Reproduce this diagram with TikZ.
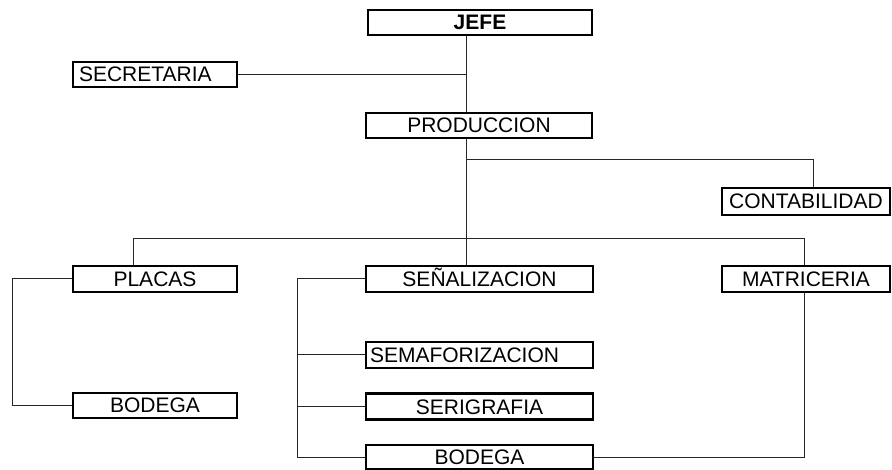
\documentclass[tikz,border=0pt]{standalone}
\usepackage{fontspec}
\setmainfont{Liberation Sans}
\usetikzlibrary{calc}
\begin{document}
\begin{tikzpicture}[x=1pt,y=-1pt,
  box/.style={draw=black,line width=2.8pt,fill=white,inner xsep=0pt,inner ysep=0pt,
    text height=15pt,text depth=0pt,
    minimum height=25pt,align=center,font=\fontsize{21}{23}\selectfont},
  leftbox/.style={box,align=left,inner xsep=6pt},
  link/.style={draw=black!85,line width=1pt}]
\useasboundingbox (0,0) rectangle (892,470);

% boxes of the chart
\node[box,text width=224pt,font=\fontsize{21}{23}\selectfont\bfseries] (jefe) at (480,22.5) {JEFE};
\node[leftbox,text width=152pt] (secretaria) at (155,74.5) {SECRETARIA};
\node[box,text width=226pt] (produccion) at (479,125.5) {PRODUCCION};
\node[box,text width=168pt,minimum height=27pt] (contabilidad) at (806,201.5) {CONTABILIDAD};
\node[box,text width=164pt,minimum height=26pt] (placas) at (155,279) {PLACAS};
\node[box,text width=227pt,minimum height=26pt] (senalizacion) at (479.5,279) {SEÑALIZACION};
\node[box,text width=168pt,minimum height=26pt] (matriceria) at (806,279) {MATRICERIA};
\node[leftbox,text width=215pt,minimum height=26pt,inner xsep=4pt,text width=219pt] (semaforizacion) at (479.5,355) {SEMAFORIZACION};
\node[box,text width=164pt] (bodegaA) at (155,405.5) {BODEGA};
\node[box,text width=227pt,minimum height=26pt] (serigrafia) at (479.5,406.5) {SERIGRAFIA};
\node[box,text width=227pt,minimum height=24pt] (bodegaB) at (479.5,457) {BODEGA};

% routing points
\coordinate (trunk) at (466,0);
\coordinate (busA) at (0,160);
\coordinate (busB) at (0,239);
\coordinate (contX) at (813,0);
\coordinate (placX) at (133,0);
\coordinate (matrX) at (804,0);
\coordinate (leftX) at (12,0);
\coordinate (midX) at (297,0);

% connectors
\draw[link] (jefe.south -| trunk) -- (produccion.north -| trunk);
\draw[link] (secretaria.east) -- (secretaria.east -| trunk);
\draw[link] (produccion.south -| trunk) -- (senalizacion.north -| trunk);
\draw[link] (busA -| trunk) -- (busA -| contX) -- (contabilidad.north -| contX);
\draw[link] (placas.north -| placX) -- (busB -| placX) -- (busB -| matrX) -- (matriceria.north -| matrX);
\draw[link] (placas.west) -- (placas.west -| leftX) -- (bodegaA.west -| leftX) -- (bodegaA.west);
\draw[link] (senalizacion.west) -- (senalizacion.west -| midX) -- (bodegaB.west -| midX) -- (bodegaB.west);
\draw[link] (semaforizacion.west -| midX) -- (semaforizacion.west);
\draw[link] (serigrafia.west -| midX) -- (serigrafia.west);
\draw[link] (bodegaB.east) -- (bodegaB.east -| matrX) -- (matriceria.south -| matrX);
\end{tikzpicture}
\end{document}
